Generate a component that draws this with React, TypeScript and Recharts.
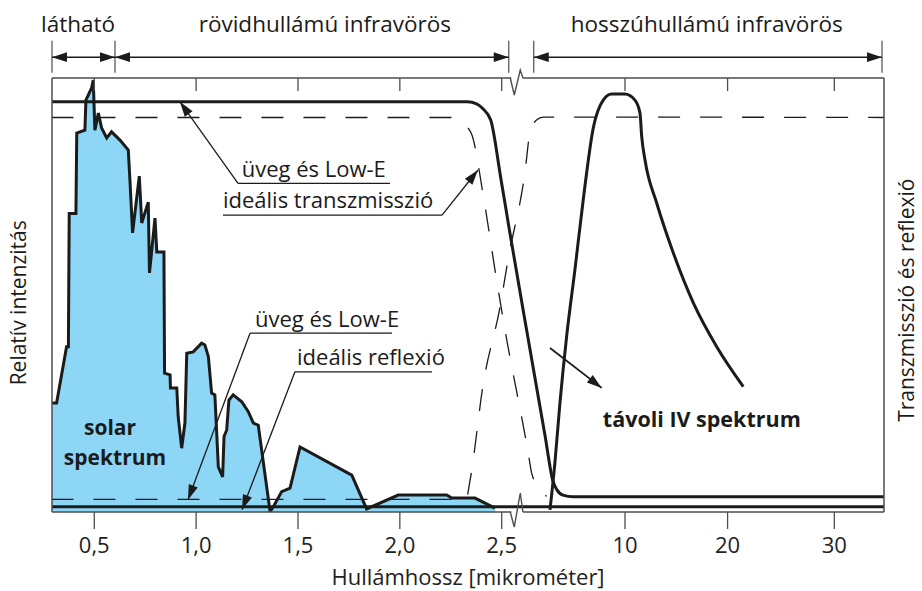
import React from "react";
import {
  ComposedChart,
  Area,
  Line,
  XAxis,
  YAxis,
  ReferenceLine,
  ReferenceDot,
} from "recharts";

type Pt = [number, number];

// wavelength in µm, value in % of the frame height
const solarSpectrum: Pt[] = [
  [0.291, 25.1], [0.315, 25.1], [0.364, 38.1], [0.373, 38.1], [0.377, 68.8],
  [0.41, 68.8], [0.414, 87.3], [0.454, 88.0], [0.459, 94.9], [0.487, 97.7],
  [0.495, 99.5], [0.503, 88.0], [0.52, 91.9], [0.536, 88.5], [0.561, 86.2],
  [0.585, 87.6], [0.626, 85.7], [0.667, 83.4], [0.675, 76.5], [0.688, 64.3],
  [0.721, 77.4], [0.733, 66.6], [0.765, 71.4], [0.771, 55.1], [0.798, 67.7],
  [0.807, 59.9], [0.842, 59.9], [0.845, 32.0], [0.872, 31.6], [0.874, 28.6],
  [0.905, 28.6], [0.912, 21.9], [0.929, 14.7], [0.945, 20.5], [0.954, 36.6],
  [0.986, 36.9], [1.027, 38.9], [1.043, 38.5], [1.06, 35.8], [1.076, 27.4],
  [1.092, 27.0], [1.109, 10.4], [1.13, 8.1], [1.137, 17.4], [1.15, 18.9],
  [1.161, 25.8], [1.182, 27.0], [1.224, 25.4], [1.256, 23.1], [1.281, 20.5],
  [1.305, 20.0], [1.363, 0.1], [1.379, 1.2], [1.42, 4.7], [1.461, 5.5],
  [1.51, 15.0], [1.764, 8.5], [1.837, 0.7], [1.992, 3.9], [2.23, 3.9],
  [2.255, 3.2], [2.369, 3.2], [2.467, 0.9],
];

const farIrSpectrum: Pt[] = [
  [4.49, 0.5], [4.85, 11.3], [5.22, 25.1], [5.71, 40.4], [6.32, 55.8],
  [6.93, 71.9], [7.67, 88.5], [8.4, 94.9], [9.02, 96.3], [10.0, 96.3],
  [10.97, 94.9], [11.46, 91.9], [11.63, 86.5], [11.95, 81.1], [13.09, 71.2],
  [14.71, 59.7], [16.66, 48.2], [18.94, 38.1], [21.47, 28.9],
];

const lowETransShort: Pt[] = [
  [0.29, 94.5], [2.33, 94.5], [2.379, 94.0], [2.408, 92.9], [2.446, 90.3],
  [2.495, 77.1], [2.537, 65.2],
];
const lowETransLong: Pt[] = [
  [2.868, 40.2], [4.12, 17.7], [4.71, 7.1], [5.0, 5.1], [5.44, 3.9],
  [6.18, 3.5], [34.75, 3.5],
];

const idealTransShort: Pt[] = [
  [0.29, 90.9], [2.256, 90.9], [2.279, 90.6], [2.315, 89.3], [2.353, 87.0],
  [2.41, 72.8], [2.467, 55.8], [2.516, 42.0],
];
const idealTransLong: Pt[] = [
  [2.89, 13.6], [3.14, 9.0], [3.46, 6.5], [3.75, 5.1], [4.24, 3.6],
];

const idealReflShort: Pt[] = [
  [0.29, 2.9], [2.325, 2.9], [2.345, 7.4], [2.41, 29.7], [2.492, 47.3],
  [2.531, 58.1],
];
const idealReflLong: Pt[] = [
  [2.65, 78.3], [3.01, 87.2], [3.5, 90.3], [3.99, 91.0], [34.75, 90.9],
];

const glassReflLevel = 1.2;

const shortTicks = [0.5, 1.0, 1.5, 2.0, 2.5];
const longTicks = [10, 20, 30];
const tickLabels = ["0,5", "1,0", "1,5", "2,0", "2,5", "10", "20", "30"];

// broken axis: 0..100 position units, short-wave part linear, long-wave part after the break
const LEFT_START = 0.2925;
const LEFT_SCALE = 24.485;
const RIGHT_ANCHORS: Pt[] = [
  [2.5, 56.6], [10, 68.87], [20, 81.2], [30, 94.03], [34.75, 100],
];
const BREAK_FROM = 55.2;
const BREAK_TO = 56.6;

function posShort(wl: number) {
  return (wl - LEFT_START) * LEFT_SCALE;
}

function posLong(wl: number) {
  for (let i = 1; i < RIGHT_ANCHORS.length; i++) {
    const [w0, p0] = RIGHT_ANCHORS[i - 1];
    const [w1, p1] = RIGHT_ANCHORS[i];
    if (wl <= w1 || i === RIGHT_ANCHORS.length - 1) {
      return p0 + ((wl - w0) * (p1 - p0)) / (w1 - w0);
    }
  }
  return 100;
}

const toShort = (pts: Pt[]) => pts.map(([wl, v]) => ({ p: posShort(wl), v }));
const toLong = (pts: Pt[]) => pts.map(([wl, v]) => ({ p: posLong(wl), v }));

const solarData = toShort(solarSpectrum);
const farIrData = toLong(farIrSpectrum);
const lowETransData = [...toShort(lowETransShort), ...toLong(lowETransLong)];
const idealTransData = [...toShort(idealTransShort), ...toLong(idealTransLong)];
const idealReflData = [...toShort(idealReflShort), ...toLong(idealReflLong)];
const glassReflData = [
  { p: posShort(0.29), v: glassReflLevel },
  { p: posLong(34.75), v: glassReflLevel },
];
const tickPositions = [...shortTicks.map(posShort), ...longTicks.map(posLong)];

const FONT = "'Open Sans', 'Noto Sans', sans-serif";
const INK = "#1b1b1b";
const FRAME = "#4d4d4d";
const SOLAR_FILL = "#8ed6f6";
const DASH = "22 20";

function arrowShape(heads: "none" | "end" | "both", width = 1.3) {
  return (props: any) => {
    const { x1, y1, x2, y2 } = props;
    const dx = x2 - x1;
    const dy = y2 - y1;
    const len = Math.sqrt(dx * dx + dy * dy) || 1;
    const ux = dx / len;
    const uy = dy / len;
    const head = (tx: number, ty: number, dirx: number, diry: number) => {
      const L = 15;
      const W = 4.8;
      const bx = tx - dirx * L;
      const by = ty - diry * L;
      return (
        <polygon
          points={`${tx},${ty} ${bx - diry * W},${by + dirx * W} ${bx + diry * W},${by - dirx * W}`}
          fill={INK}
        />
      );
    };
    return (
      <g>
        <line x1={x1} y1={y1} x2={x2} y2={y2} stroke={INK} strokeWidth={width} />
        {heads !== "none" && head(x2, y2, ux, uy)}
        {heads === "both" && head(x1, y1, -ux, -uy)}
      </g>
    );
  };
}

function breakShape(up: number, down: number) {
  return (props: any) => {
    const { x1, y1, x2 } = props;
    const d = `M${x1 - 1},${y1} L${x1 + 3},${y1 + down} L${x1 + 9},${y1 - up} L${x2},${y1}`;
    return <path d={d} stroke={FRAME} strokeWidth={1.4} fill="none" />;
  };
}

function textShape(
  text: string,
  opts: { anchor?: string; size?: number; bold?: boolean; rotate?: boolean; baseline?: string } = {}
) {
  return (props: any) => {
    const { cx, cy } = props;
    return (
      <text
        x={cx}
        y={cy}
        textAnchor={opts.anchor ?? "start"}
        dominantBaseline={opts.baseline ?? "alphabetic"}
        transform={opts.rotate ? `rotate(-90 ${cx} ${cy})` : undefined}
        fontFamily={FONT}
        fontSize={opts.size ?? 22}
        fontWeight={opts.bold ? 700 : 400}
        fill={INK}
      >
        {text}
      </text>
    );
  };
}

const seg = (x1: number, y1: number, x2: number, y2: number) => [
  { x: x1, y: y1 },
  { x: x2, y: y2 },
];

export default function App() {
  const bandEdges = [0, 7.57, 54.9, 57.9, 99.76];
  const bands: [number, number, number, string][] = [
    [0, 7.57, 3.13, "látható"],
    [7.57, 54.9, 32.8, "rövidhullámú infravörös"],
    [57.9, 99.76, 78.7, "hosszúhullámú infravörös"],
  ];

  return (
    <div style={{ position: "absolute", left: 0, top: 0, background: "#fff" }}>
      <ComposedChart
        width={922}
        height={591}
        margin={{ top: 78, right: 38, bottom: 0, left: 52 }}
      >
        <XAxis
          type="number"
          dataKey="p"
          domain={[0, 100]}
          allowDataOverflow
          ticks={tickPositions}
          interval={0}
          tickFormatter={(_v: number, i: number) => tickLabels[i]}
          axisLine={false}
          tickLine={{ stroke: FRAME, strokeWidth: 1.3 }}
          tickSize={17}
          tickMargin={8}
          tick={{ fill: "#222", fontSize: 22, fontFamily: FONT }}
          height={79}
          label={{
            value: "Hullámhossz [mikrométer]",
            position: "insideBottom",
            offset: 6,
            fill: "#222",
            fontSize: 22,
            fontFamily: FONT,
          }}
        />
        <YAxis type="number" domain={[0, 100]} allowDataOverflow hide />

        <Area
          data={solarData}
          dataKey="v"
          type="linear"
          baseValue={0}
          stroke={INK}
          strokeWidth={3}
          strokeLinejoin="miter"
          fill={SOLAR_FILL}
          fillOpacity={1}
          dot={false}
          activeDot={false}
          isAnimationActive={false}
        />
        <Line
          data={idealTransData}
          dataKey="v"
          type="monotone"
          stroke={INK}
          strokeWidth={1.3}
          strokeDasharray={DASH}
          dot={false}
          activeDot={false}
          isAnimationActive={false}
        />
        <Line
          data={idealReflData}
          dataKey="v"
          type="monotone"
          stroke={INK}
          strokeWidth={1.3}
          strokeDasharray={DASH}
          dot={false}
          activeDot={false}
          isAnimationActive={false}
        />
        <Line
          data={glassReflData}
          dataKey="v"
          type="linear"
          stroke={INK}
          strokeWidth={3}
          dot={false}
          activeDot={false}
          isAnimationActive={false}
        />
        <Line
          data={lowETransData}
          dataKey="v"
          type="monotone"
          stroke={INK}
          strokeWidth={3}
          dot={false}
          activeDot={false}
          isAnimationActive={false}
        />
        <Line
          data={farIrData}
          dataKey="v"
          type="monotone"
          stroke={INK}
          strokeWidth={3}
          dot={false}
          activeDot={false}
          isAnimationActive={false}
        />

        {/* frame with the axis break */}
        <ReferenceLine x={0} stroke={FRAME} strokeWidth={1.5} />
        <ReferenceLine x={100} stroke={FRAME} strokeWidth={1.5} />
        <ReferenceLine segment={seg(0, 100, BREAK_FROM, 100)} stroke={FRAME} strokeWidth={1.5} />
        <ReferenceLine segment={seg(BREAK_TO, 100, 100, 100)} stroke={FRAME} strokeWidth={1.5} />
        <ReferenceLine segment={seg(0, 0, BREAK_FROM, 0)} stroke={FRAME} strokeWidth={1.5} />
        <ReferenceLine segment={seg(BREAK_TO, 0, 100, 0)} stroke={FRAME} strokeWidth={1.5} />
        <ReferenceLine
          segment={seg(BREAK_FROM, 100, BREAK_TO, 100)}
          ifOverflow="visible"
          shape={breakShape(8, 17)}
        />
        <ReferenceLine
          segment={seg(BREAK_FROM, 0, BREAK_TO, 0)}
          ifOverflow="visible"
          shape={breakShape(19, 15)}
        />
        {tickPositions.map((p, i) => (
          <ReferenceLine
            key={`tt${i}`}
            segment={seg(p, 100, p, 97)}
            stroke={FRAME}
            strokeWidth={1.3}
          />
        ))}

        {/* spectral bands above the frame */}
        {bandEdges.map((p, i) => (
          <ReferenceLine
            key={`be${i}`}
            segment={seg(p, 101.2, p, 108.6)}
            ifOverflow="visible"
            stroke={FRAME}
            strokeWidth={1.2}
          />
        ))}
        {bands.map(([a, b, c, label]) => (
          <React.Fragment key={label}>
            <ReferenceLine
              segment={seg(a, 104.8, b, 104.8)}
              ifOverflow="visible"
              shape={arrowShape("both", 1.5)}
            />
            <ReferenceDot
              x={c}
              y={110.6}
              r={0}
              ifOverflow="visible"
              shape={textShape(label, { anchor: "middle", size: 22.5 })}
            />
          </React.Fragment>
        ))}

        {/* annotations */}
        <ReferenceLine segment={seg(22.36, 75.7, 40.63, 75.7)} shape={arrowShape("none")} />
        <ReferenceLine segment={seg(22.36, 75.7, 15.38, 94.5)} shape={arrowShape("end")} />
        <ReferenceLine segment={seg(20.55, 68.4, 46.88, 68.4)} shape={arrowShape("none")} />
        <ReferenceLine segment={seg(46.88, 68.4, 51.2, 78.8)} shape={arrowShape("end")} />
        <ReferenceDot x={22.8} y={77.3} r={0} shape={textShape("üveg és Low-E")} />
        <ReferenceDot x={20.55} y={70.0} r={0} shape={textShape("ideális transzmisszió")} />

        <ReferenceLine segment={seg(23.8, 41.2, 40.87, 41.2)} shape={arrowShape("none")} />
        <ReferenceLine segment={seg(23.8, 41.2, 16.35, 2.8)} shape={arrowShape("end")} />
        <ReferenceLine segment={seg(29.2, 32.3, 45.67, 32.3)} shape={arrowShape("none")} />
        <ReferenceLine segment={seg(29.2, 32.3, 22.84, 0.5)} shape={arrowShape("end")} />
        <ReferenceDot x={24.4} y={42.6} r={0} shape={textShape("üveg és Low-E")} />
        <ReferenceDot x={29.45} y={33.9} r={0} shape={textShape("ideális reflexió")} />

        <ReferenceDot x={6.97} y={17.7} r={0} shape={textShape("solar", { anchor: "middle", bold: true, size: 21 })} />
        <ReferenceDot x={7.57} y={10.8} r={0} shape={textShape("spektrum", { anchor: "middle", bold: true, size: 21 })} />

        <ReferenceLine segment={seg(59.86, 37.8, 66.07, 28.6)} shape={arrowShape("end", 1.8)} />
        <ReferenceDot
          x={78.1}
          y={19.7}
          r={0}
          shape={textShape("távoli IV spektrum", { anchor: "middle", bold: true, size: 21.5 })}
        />

        {/* side titles */}
        <ReferenceDot
          x={-4.1}
          y={48.2}
          r={0}
          ifOverflow="visible"
          shape={textShape("Relatív intenzitás", { anchor: "middle", rotate: true, baseline: "central", size: 21 })}
        />
        <ReferenceDot
          x={102.7}
          y={48.8}
          r={0}
          ifOverflow="visible"
          shape={textShape("Transzmisszió és reflexió", { anchor: "middle", rotate: true, baseline: "central", size: 21 })}
        />
      </ComposedChart>
    </div>
  );
}
